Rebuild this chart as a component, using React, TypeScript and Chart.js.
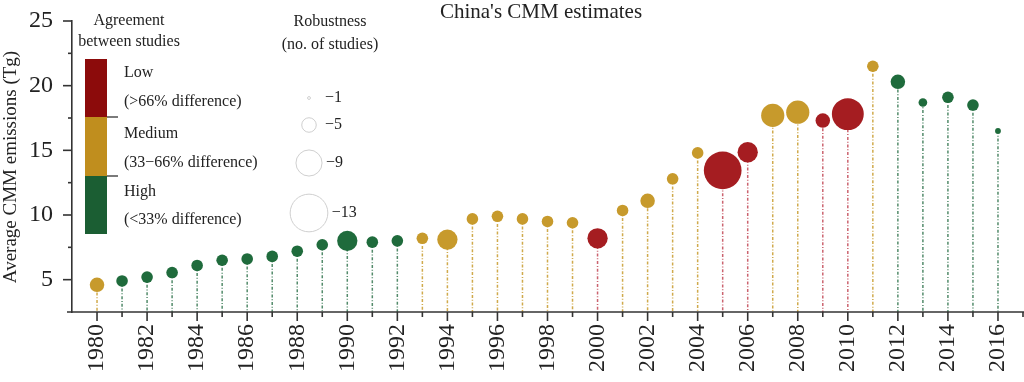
import React, { useEffect, useRef } from "react";
import { Chart, registerables } from "chart.js";

Chart.register(...registerables);

const years = [1980, 1981, 1982, 1983, 1984, 1985, 1986, 1987, 1988, 1989, 1990, 1991, 1992, 1993, 1994, 1995, 1996, 1997, 1998, 1999, 2000, 2001, 2002, 2003, 2004, 2005, 2006, 2007, 2008, 2009, 2010, 2011, 2012, 2013, 2014, 2015, 2016];
const emissions = [4.6, 4.9, 5.2, 5.55, 6.1, 6.5, 6.6, 6.8, 7.2, 7.7, 8.0, 7.9, 8.0, 8.2, 8.1, 9.7, 9.9, 9.7, 9.5, 9.4, 8.2, 10.35, 11.1, 12.8, 14.8, 13.45, 14.85, 17.7, 17.95, 17.3, 17.8, 21.5, 20.3, 18.7, 19.1, 18.5, 16.5];
const studies = [5, 4, 4, 4, 4, 4, 4, 4, 4, 4, 7, 4, 4, 4, 7, 4, 4, 4, 4, 4, 7, 4, 5, 4, 4, 13, 7, 8, 8, 5, 11, 4, 5, 3, 4, 4, 2];
const agreement = ["M", "H", "H", "H", "H", "H", "H", "H", "H", "H", "H", "H", "H", "M", "M", "M", "M", "M", "M", "M", "L", "M", "M", "M", "M", "L", "L", "M", "M", "L", "L", "M", "H", "H", "H", "H", "H"];

const agreementLabels = ["Low", "(>66% difference)", "Medium", "(33\u221266% difference)", "High", "(<33% difference)"];
const robustnessSizes = [1, 5, 9, 13];
const yTickValues = [5, 10, 15, 20, 25];

const POINT_COLORS: Record<string, string> = { L: "#a51d21", M: "#c79a2c", H: "#1f6b3c" };
const STEM_COLORS: Record<string, string> = { L: "rgba(190,60,75,0.8)", M: "rgba(200,155,45,0.85)", H: "rgba(40,110,70,0.8)" };
const BAR_COLORS = ["#8c0b0b", "#c08e1e", "#1b5e33"];
const SERIF = "'Liberation Serif', 'Times New Roman', serif";
const TXT = "#222";
const radiusOf = (n: number) => 1.45 * n;

const decorPlugin = {
  id: "decor",
  beforeDatasetsDraw(chart: any) {
    const { ctx, scales } = chart;
    const xs = scales.x, ys = scales.y;
    const base = ys.getPixelForValue(2.5);
    ctx.save();
    ctx.lineWidth = 1.5;
    ctx.setLineDash([3, 1.8, 1, 1.8]);
    years.forEach((yr, i) => {
      const px = xs.getPixelForValue(yr);
      const py = ys.getPixelForValue(emissions[i]);
      ctx.strokeStyle = STEM_COLORS[agreement[i]];
      ctx.beginPath();
      ctx.moveTo(px, py);
      ctx.lineTo(px, base);
      ctx.stroke();
    });
    ctx.restore();
  },
  afterDraw(chart: any) {
    const { ctx, scales, chartArea } = chart;
    const xs = scales.x, ys = scales.y;
    const axisY = chartArea.bottom;
    const axisX = chartArea.left;
    ctx.save();
    ctx.strokeStyle = "#333";
    ctx.lineWidth = 1.6;
    ctx.beginPath();
    ctx.moveTo(axisX - 5, axisY);
    ctx.lineTo(chartArea.right + 1, axisY);
    ctx.stroke();
    for (let yr = 1980; yr <= 2017; yr++) {
      const px = xs.getPixelForValue(yr);
      const len = yr % 2 === 0 ? 9 : 5;
      ctx.beginPath();
      ctx.moveTo(px, axisY);
      ctx.lineTo(px, axisY + len);
      ctx.stroke();
    }
    for (let v = 5; v <= 25; v += 2.5) {
      const py = ys.getPixelForValue(v);
      const len = v % 5 === 0 ? 9 : 4;
      ctx.beginPath();
      ctx.moveTo(axisX, py);
      ctx.lineTo(axisX - len, py);
      ctx.stroke();
    }
    ctx.fillStyle = TXT;
    ctx.font = `21px ${SERIF}`;
    ctx.textAlign = "center";
    ctx.textBaseline = "middle";
    ctx.fillText("China's CMM estimates", 541, 12);
    ctx.save();
    ctx.translate(11, 167);
    ctx.rotate(-Math.PI / 2);
    ctx.font = `19px ${SERIF}`;
    ctx.fillText("Average CMM emissions (Tg)", 0, 0);
    ctx.restore();

    ctx.font = `16px ${SERIF}`;
    ctx.fillText("Agreement", 129, 21);
    ctx.fillText("between studies", 129, 42);
    const barX = 85, barW = 22, segs = [59, 117, 176, 234];
    for (let i = 0; i < 3; i++) {
      ctx.fillStyle = BAR_COLORS[i];
      ctx.fillRect(barX, segs[i], barW, segs[i + 1] - segs[i]);
    }
    ctx.strokeStyle = "#222";
    ctx.lineWidth = 1.2;
    [117, 176].forEach((yy) => {
      ctx.beginPath();
      ctx.moveTo(barX + barW, yy);
      ctx.lineTo(barX + barW + 11, yy);
      ctx.stroke();
    });
    ctx.fillStyle = TXT;
    ctx.textAlign = "left";
    const labelY = [73, 102, 134, 163, 192, 220];
    agreementLabels.forEach((t, i) => ctx.fillText(t, 124, labelY[i]));

    ctx.textAlign = "center";
    ctx.fillText("Robustness", 330, 22);
    ctx.fillText("(no. of studies)", 330, 45);
    const cy = [98, 125, 163, 213];
    ctx.strokeStyle = "#cfcfcf";
    ctx.lineWidth = 1;
    ctx.textAlign = "left";
    robustnessSizes.forEach((n, i) => {
      const r = radiusOf(n);
      ctx.beginPath();
      ctx.arc(309, cy[i], Math.max(r, 1), 0, Math.PI * 2);
      ctx.stroke();
      ctx.fillText("\u2212" + n, 309 + Math.max(r, 12) + 4, cy[i]);
    });
    ctx.restore();
  },
};

export default function App() {
  const ref = useRef<HTMLCanvasElement | null>(null);
  useEffect(() => {
    if (!ref.current) return;
    const chart = new Chart(ref.current, {
      type: "scatter",
      data: {
        datasets: [
          {
            data: years.map((y, i) => ({ x: y, y: emissions[i] })),
            pointRadius: studies.map(radiusOf),
            pointHoverRadius: studies.map(radiusOf),
            pointBackgroundColor: agreement.map((a) => POINT_COLORS[a]),
            pointBorderWidth: 0,
            clip: false,
          },
        ],
      },
      options: {
        animation: false,
        responsive: false,
        maintainAspectRatio: false,
        events: [],
        layout: { autoPadding: false, padding: { top: 21, right: 1, left: 0, bottom: 0 } },
        plugins: { legend: { display: false }, tooltip: { enabled: false }, title: { display: false } },
        scales: {
          x: {
            type: "linear",
            min: 1979,
            max: 2017,
            afterFit: (s: any) => {
              s.height = 70;
              s.paddingLeft = 0;
              s.paddingRight = 0;
            },
            grid: { display: true, drawOnChartArea: false, tickLength: 9, tickColor: "rgba(0,0,0,0)" },
            border: { display: false },
            ticks: {
              stepSize: 1,
              autoSkip: false,
              maxRotation: 90,
              minRotation: 90,
              padding: 3,
              color: TXT,
              font: { family: SERIF, size: 24 },
              callback: (v: any) => (Number(v) % 2 === 0 && Number(v) <= 2016 ? String(v) : ""),
            },
          },
          y: {
            min: 2.5,
            max: 25,
            afterFit: (s: any) => {
              s.width = 72;
              s.paddingTop = 0;
              s.paddingBottom = 0;
            },
            grid: { display: true, drawOnChartArea: false, tickLength: 9, tickColor: "rgba(0,0,0,0)" },
            border: { display: true, color: "#333", width: 1.6 },
            ticks: {
              stepSize: 2.5,
              padding: 10,
              color: TXT,
              font: { family: SERIF, size: 24 },
              callback: (v: any) => (yTickValues.includes(Number(v)) ? String(v) : ""),
            },
          },
        },
      },
      plugins: [decorPlugin],
    });
    return () => chart.destroy();
  }, []);
  return (
    <div style={{ position: "fixed", left: 0, top: 0, width: 1024, height: 382, background: "#fff" }}>
      <canvas ref={ref} width={1024} height={382} style={{ width: 1024, height: 382, display: "block" }} />
    </div>
  );
}
